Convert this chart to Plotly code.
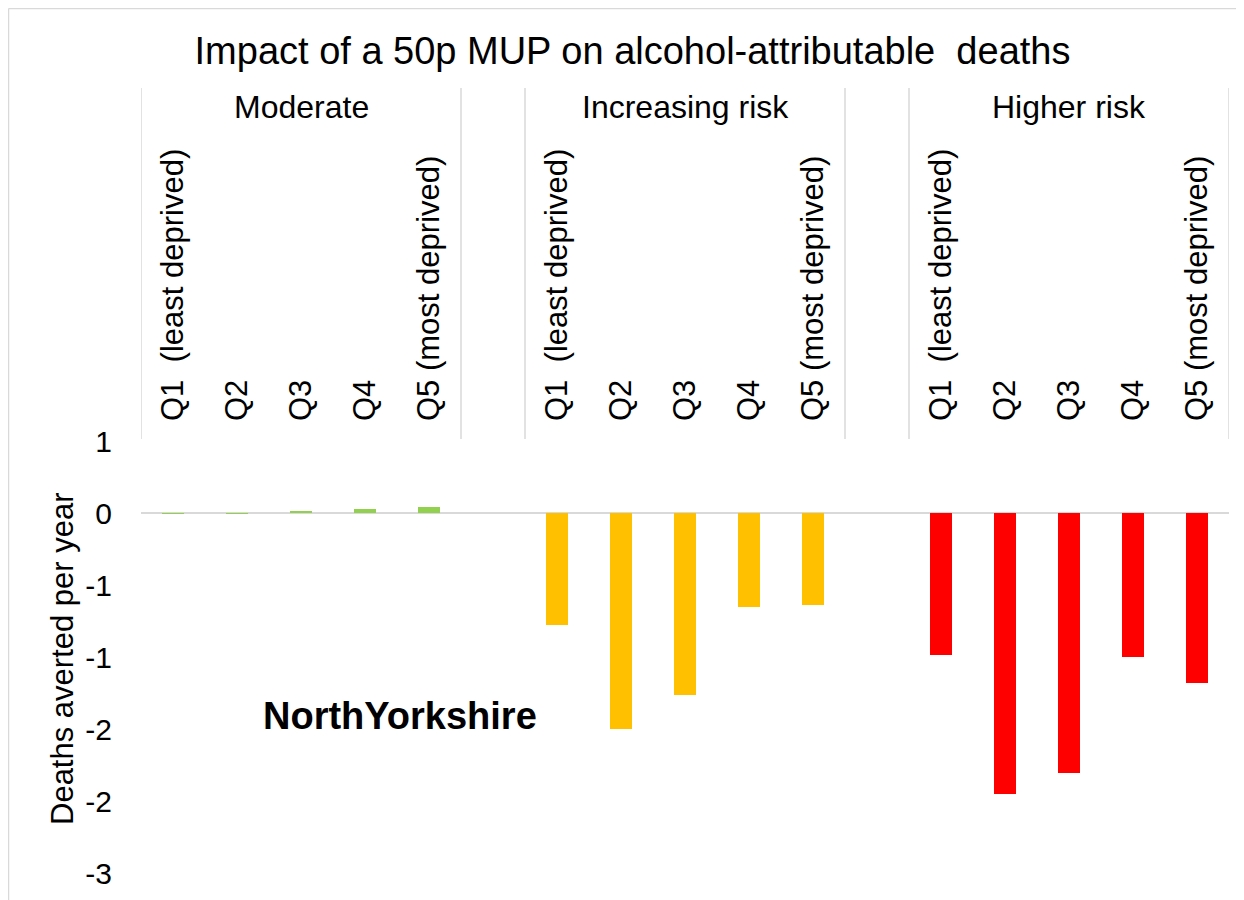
import plotly.graph_objects as go

# ---- data ----
groups = ["Moderate", "Increasing risk", "Higher risk"]
quintiles = ["Q1  (least deprived)", "Q2", "Q3", "Q4", "Q5 (most deprived)"]
moderate = [-0.005, -0.004, 0.017, 0.03, 0.045]
increasing = [-0.776, -1.498, -1.262, -0.651, -0.639]
higher = [-0.986, -1.951, -1.803, -0.998, -1.178]
colors = ["#92D050", "#FFC000", "#FF0000"]
y_tickvals = [0.5, 0, -0.5, -1, -1.5, -2, -2.5]
y_ticktext = ["1", "0", "-1", "-1", "-2", "-2", "-3"]
title = "Impact of a 50p MUP on alcohol-attributable  deaths"
ytitle = "Deaths averted per year"
area_label = "NorthYorkshire"

series = [moderate, increasing, higher]
SLOT = len(quintiles) + 1  # one empty slot between groups

FONT = "Liberation Sans, Arial, sans-serif"
OFF = 8  # page body margin
W, H = 1244, 900
L = 141 - OFF
T = 441 - OFF
R = W - (1229 - OFF)
B = H - (873 - OFF)

fig = go.Figure()
tickvals, ticktext = [], []
for g, (name, vals, col) in enumerate(zip(groups, series, colors)):
    xs = [g * SLOT + q for q in range(len(quintiles))]
    tickvals += xs
    ticktext += quintiles
    fig.add_trace(go.Bar(x=xs, y=vals, marker=dict(color=col, line=dict(width=0)),
                         width=0.34, name=name, showlegend=False))

ncat = SLOT * len(groups) - 1
plot_h = H - T - B
pw = W - L - R

def ypaper(screen_px):
    return (H - B - (screen_px - OFF)) / plot_h

def xpaper(screen_px):
    return ((screen_px - OFF) - L) / pw

line_col = "#D9D9D9"
shapes = []
annotations = []
for g, name in enumerate(groups):
    left = g * SLOT - 0.5
    right = g * SLOT + len(quintiles) - 0.5
    for xv in (left, right):
        shapes.append(dict(type="line", xref="x", yref="paper", x0=xv, x1=xv,
                           y0=ypaper(439), y1=ypaper(88),
                           line=dict(color=line_col, width=1.5)))
    annotations.append(dict(text=name, xref="x", yref="paper", x=g * SLOT + 2,
                            y=ypaper(107), showarrow=False, yanchor="middle",
                            font=dict(family=FONT, size=32, color="#000000")))

annotations.append(dict(text="<b>" + area_label + "</b>", xref="paper", yref="paper",
                        x=xpaper(400), y=ypaper(716), showarrow=False,
                        xanchor="center", yanchor="middle",
                        font=dict(family=FONT, size=38, color="#000000")))

# chart-area border (left and top)
shapes.append(dict(type="line", xref="paper", yref="paper",
                   x0=xpaper(8.5), x1=xpaper(8.5), y0=ypaper(8.5), y1=ypaper(910),
                   line=dict(color=line_col, width=1.5)))
shapes.append(dict(type="line", xref="paper", yref="paper",
                   x0=xpaper(8.5), x1=xpaper(1260), y0=ypaper(8.5), y1=ypaper(8.5),
                   line=dict(color=line_col, width=1.5)))

fig.update_layout(
    width=W, height=H,
    margin=dict(l=L, r=R, t=T, b=B, pad=0),
    paper_bgcolor="white", plot_bgcolor="white",
    bargap=0,
    title=dict(text=title, x=(632.5 - OFF) / W, xanchor="center",
               y=1 - (51 - OFF) / H, yanchor="middle",
               font=dict(family=FONT, size=38, color="#000000")),
    xaxis=dict(range=[-0.5, ncat - 0.5], side="top", tickmode="array",
               tickvals=tickvals, ticktext=ticktext, tickangle=-90,
               ticks="", ticklabelstandoff=19, showgrid=False, zeroline=False,
               showline=False,
               tickfont=dict(family=FONT, size=31, color="#000000")),
    yaxis=dict(range=[-2.5, 0.5], tickmode="array", tickvals=y_tickvals,
               ticktext=y_ticktext, showgrid=False, zeroline=True,
               zerolinecolor=line_col, zerolinewidth=2, showline=False,
               ticks="", ticklabelstandoff=28,
               tickfont=dict(family=FONT, size=30, color="#000000")),
    shapes=shapes,
    annotations=annotations + [
        dict(text=ytitle, xref="paper", yref="paper", x=xpaper(62), y=ypaper(659),
             textangle=-90, showarrow=False, xanchor="center", yanchor="middle",
             font=dict(family=FONT, size=31, color="#000000"))
    ],
)

fig.write_html("out.html")
